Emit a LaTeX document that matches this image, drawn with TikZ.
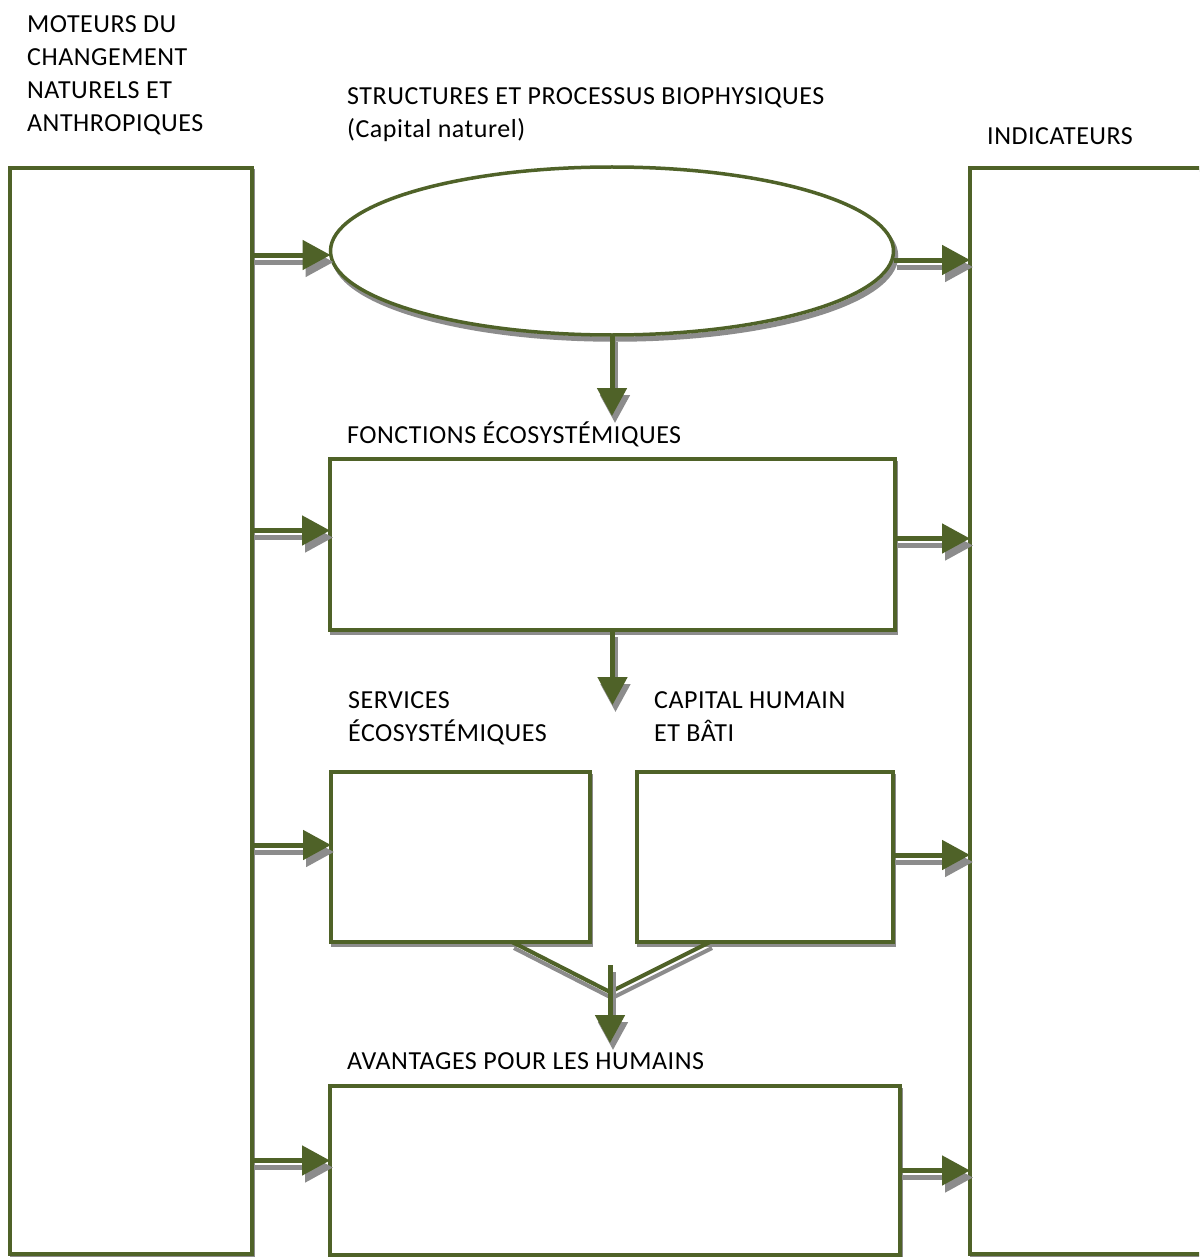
\documentclass[tikz,border=0pt]{standalone}
\usepackage{fontspec}
\setmainfont{Carlito}[LetterSpace=2.0]
\usetikzlibrary{arrows.meta,shapes.geometric}
\definecolor{leafgreen}{RGB}{79,98,40}
\definecolor{shadegray}{RGB}{140,140,140}
\tikzset{
  frame/.style={draw=leafgreen, line width=3.5pt, fill=white, inner sep=0pt, outer sep=0pt,
    preaction={draw=shadegray, line width=3pt, transform canvas={shift={(1.5pt,-3pt)}}}},
  flow/.style={draw=leafgreen, line width=5pt, -{Triangle[length=28pt,width=29pt]},
    preaction={draw=shadegray, line width=5pt, -{Triangle[length=28pt,width=29pt]},
      transform canvas={shift={(3pt,-7pt)}}}},
  vee/.style={draw=leafgreen, line width=4pt,
    preaction={draw=shadegray, line width=4pt, transform canvas={shift={(2pt,-6pt)}}}},
  caption/.style={anchor=base west, inner sep=0pt, align=left,
    font=\fontsize{26}{33}\selectfont}
}
\begin{document}
\begin{tikzpicture}[x=1pt,y=-1pt]
  \useasboundingbox (0,0) rectangle (1199,1257);
  \clip (0,0) rectangle (1199,1257);
  \fill[white] (0,0) rectangle (1199,1257);

  % side columns
  \node[frame, minimum width=242pt, minimum height=1086pt] (lbox) at (131,711) {};
  \node[frame, minimum width=250pt, minimum height=1086pt] (rbox) at (1095,711) {};

  % central chain
  \node[frame, ellipse, minimum width=563pt, minimum height=168pt,
        preaction={draw=shadegray, line width=3.5pt, transform canvas={shift={(3pt,-5pt)}}}] (ell) at (612,251) {};
  \node[frame, minimum width=565pt, minimum height=171pt] (fon) at (612.5,544.5) {};
  \node[frame, minimum width=259pt, minimum height=170pt] (ser) at (460.5,857) {};
  \node[frame, minimum width=256pt, minimum height=170pt] (cap) at (765,857) {};
  \node[frame, minimum width=570pt, minimum height=169pt] (ava) at (615,1170.5) {};

  % captions (multi-line captions are placed by their last baseline)
  \node[caption] (tmot) at (27,132) {MOTEURS DU\\CHANGEMENT\\NATURELS ET\\ANTHROPIQUES};
  \node[caption] (tstr) at (347,138) {STRUCTURES ET PROCESSUS BIOPHYSIQUES\\(Capital naturel)};
  \node[caption] (tind) at (987,145) {INDICATEURS};
  \node[caption] (tfon) at (347,443) {FONCTIONS ÉCOSYSTÉMIQUES};
  \node[caption] (tser) at (348,741) {SERVICES\\ÉCOSYSTÉMIQUES};
  \node[caption] (tcap) at (654,741) {CAPITAL HUMAIN\\ET BÂTI};
  \node[caption] (tava) at (347,1069) {AVANTAGES POUR LES HUMAINS};

  % entry points on the central chain
  \coordinate (inE) at ([yshift=-4pt]ell.west);
  \coordinate (inF) at ([yshift=14pt]fon.west);
  \coordinate (inS) at ([yshift=12pt]ser.west);
  \coordinate (inA) at ([yshift=10pt]ava.west);
  \coordinate (outE) at ([yshift=-9pt]ell.east);
  \coordinate (outF) at ([yshift=6pt]fon.east);
  \coordinate (outC) at ([yshift=2pt]cap.east);
  \coordinate (outA) at (ava.east);

  % drivers feeding each level
  \draw[flow] (lbox.east |- inE) -- (inE);
  \draw[flow] (lbox.east |- inF) -- (inF);
  \draw[flow] (lbox.east |- inS) -- (inS);
  \draw[flow] (lbox.east |- inA) -- (inA);

  % levels feeding the indicators
  \draw[flow] (outE) -- (rbox.west |- outE);
  \draw[flow] (outF) -- (rbox.west |- outF);
  \draw[flow] (outC) -- (rbox.west |- outC);
  \draw[flow] (outA) -- (rbox.west |- outA);

  % downward cascade
  \coordinate (d1) at ([yshift=-81pt]ell.south);
  \coordinate (d2) at ([yshift=-75pt]fon.south);
  \draw[flow] (ell.south) -- (d1);
  \draw[flow] (fon.south) -- (d2);

  % merge of services and capital
  \coordinate (vl) at ([xshift=51.5pt]ser.south);
  \coordinate (vr) at ([xshift=-55pt]cap.south);
  \coordinate (vj) at (610,992);
  \coordinate (vs) at (610,965);
  \coordinate (vt) at (610,1043);
  \draw[vee] (vl) -- (vj) -- (vr);
  \draw[flow] (vs) -- (vt);
\end{tikzpicture}
\end{document}
